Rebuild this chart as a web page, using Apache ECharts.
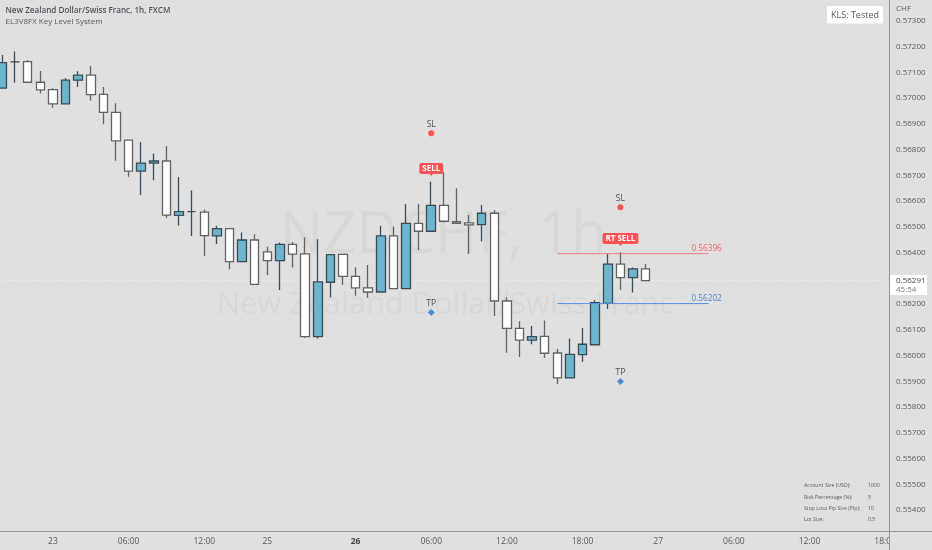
<!DOCTYPE html>
<html><head><meta charset="utf-8">
<style>html,body{margin:0;padding:0;background:#e0e0e0}#c{width:932px;height:550px}</style>
<script src="https://cdn.jsdelivr.net/npm/echarts@6/dist/echarts.min.js"></script>
</head><body><div id="c"></div>
<script>
// open, close, low, high (x 1e-5 CHF); white = falling, blue = rising
const ohlc = [
[57039,57138,57039,57168],[57141,57141,57060,57181],[57142,57062,57062,57148],[57062,57032,57018,57106],
[57033,56978,56963,57039],[56978,57070,56978,57079],[57070,57090,57044,57105],[57090,57014,56990,57126],
[57015,56945,56899,57044],[56945,56834,56757,56980],[56837,56717,56695,56837],[56717,56748,56624,56829],
[56748,56756,56681,56785],[56756,56546,56536,56814],[56545,56559,56505,56694],[56559,56559,56465,56641],
[56557,56466,56387,56568],[56465,56493,56434,56504],[56493,56365,56335,56496],[56365,56449,56365,56478],
[56449,56277,56277,56471],[56403,56369,56313,56423],[56369,56432,56255,56439],[56432,56394,56342,56441],
[56395,56074,56068,56460],[56074,56286,56066,56452],[56285,56392,56227,56392],[56393,56308,56274,56393],
[56308,56263,56232,56343],[56263,56247,56225,56352],[56247,56465,56247,56504],[56465,56260,56258,56502],
[56260,56514,56260,56589],[56514,56483,56410,56590],[56483,56584,56483,56675],[56584,56522,56517,56712],
[56520,56514,56511,56650],[56516,56508,56395,56546],[56509,56553,56444,56585],[56553,56212,56154,56566],
[56212,56106,56011,56227],[56106,56060,55994,56133],[56060,56074,56044,56115],[56075,56009,55992,56136],
[56010,55913,55890,56026],[55913,56005,55913,56066],[56004,56044,55976,56107],[56042,56206,56042,56215],
[56203,56355,56181,56396],[56355,56303,56256,56401],[56303,56337,56245,56342],[56337,56291,56291,56356]
];
const tickAt = {4:'23',10:'06:00',16:'12:00',21:'25',28:'26',34:'06:00',40:'12:00',46:'18:00',52:'27',58:'06:00',64:'12:00',70:'18:00'};
const categoryCount = 71;
const yTicksMin = 0.554, yTicksMax = 0.573;
const currentPrice = 0.56291;
const levelRed = 0.56396, levelBlue = 0.56202;
const levelStart = 44, levelEnd = 56, levelLabelAt = 57;
const slPoints = [[34,0.56864],[49,0.56576]];
const tpPoints = [[34,0.56167],[49,0.55899]];
const tags = [[34,0.56704,'SELL'],[49,0.56432,'RT SELL']];
const statsLabels = ['Account Size (USD):','Risk Percentage (%):','Stop Loss Pip Size (Pip):','Lot Size:'];
const statsValues = ['1000','5','10','0.5'];

const FONT = '"Open Sans","Noto Sans",sans-serif';
const BG = '#e0e0e0', TXT = '#555a60';
const categories = Array.from({length:categoryCount},(_,i)=>String(i));
const candles = ohlc.map(r=>r.map(v=>v/100000));

function txt(x,y,text,o){return {type:'text',x,y,z:(o&&o.z)||20,silent:true,style:Object.assign({text,fill:TXT,font:'8px '+FONT,textVerticalAlign:'middle',textAlign:'left'},o&&o.style)}}

const graphics = [
  {type:'text',x:443,y:236,z:0,silent:true,style:{text:'NZDCHF, 1h',fill:'#d8d8d8',font:'58px '+FONT,textAlign:'center',textVerticalAlign:'middle'}},
  {type:'text',x:445.5,y:305,z:0,silent:true,style:{text:'New Zealand Dollar/Swiss Franc',fill:'#d8d8d8',font:'30.8px '+FONT,textAlign:'center',textVerticalAlign:'middle'}},
  {type:'rect',z:15,silent:true,shape:{x:889,y:532,width:43,height:18},style:{fill:BG}},
  {type:'line',z:16,silent:true,shape:{x1:0,y1:531.5,x2:932,y2:531.5},style:{stroke:'#8f9296',lineWidth:1}},
  {type:'line',z:16,silent:true,shape:{x1:889.5,y1:0,x2:889.5,y2:550},style:{stroke:'#8f9296',lineWidth:1}},
  txt(5.5,10.5,'New Zealand Dollar/Swiss Franc, 1h, FXCM',{style:{font:'600 8.1px '+FONT,fill:'#4f555c'}}),
  txt(5.5,21.5,'EL3V8FX Key Level System',{style:{font:'8px '+FONT}}),
  txt(896,9,'CHF'),
  {type:'rect',z:18,silent:true,shape:{x:827,y:6,width:56,height:17.5},style:{fill:'#ffffff'}},
  txt(855,15,'KLS: Tested',{style:{textAlign:'center',font:'9px '+FONT}}),
  {type:'rect',z:18,silent:true,shape:{x:890,y:275,width:37,height:20},style:{fill:'#ffffff'}},
  txt(896,281,currentPrice.toFixed(5),{style:{fill:'#444'}}),
  txt(896,290,'45:54',{style:{fill:'#777'}})
];
statsLabels.forEach((t,i)=>{
  const y=[486,497.3,508.3,519.3][i];
  graphics.push(txt(804,y,t,{style:{font:'5.2px '+FONT}}));
  graphics.push(txt(868,y,statsValues[i],{style:{font:'5.2px '+FONT}}));
});

const levelLabel = (c,p)=>({type:'scatter',z:6,symbol:'circle',symbolSize:1,silent:true,
  itemStyle:{opacity:0},
  data:[[levelLabelAt,p]],
  label:{show:true,opacity:1,position:'left',distance:-1,offset:[0,-5],formatter:p.toFixed(5),color:c,fontSize:8.2,fontFamily:FONT}});
const levelLine = (c,p)=>({type:'line',z:5,silent:true,symbol:'none',
  data:[[levelStart,p],[levelEnd,p]],lineStyle:{color:c,width:1,opacity:1},itemStyle:{color:c}});

const option = {
  animation:false,
  backgroundColor:BG,
  textStyle:{fontFamily:FONT},
  grid:{left:-3.8,right:40.5,top:-4.74,bottom:14.26,outerBoundsMode:'none'},
  xAxis:{type:'category',data:categories,boundaryGap:true,
    axisLine:{show:false},axisTick:{show:false},splitLine:{show:false},
    axisLabel:{interval:0,margin:1,color:TXT,fontSize:8.5,fontFamily:FONT,hideOverlap:false,
      formatter:(v)=>{const t=tickAt[v]||'';return t==='26'?'{b|26}':t;},
      rich:{b:{fontWeight:'bold',color:'#444',fontSize:8.5,fontFamily:FONT}}}},
  yAxis:{type:'value',position:'right',min:0.553,max:0.574,interval:0.001,
    axisLine:{show:false},axisTick:{show:false},splitLine:{show:false},
    axisLabel:{margin:4.5,color:TXT,fontSize:8,fontFamily:FONT,
      formatter:(v)=>(v<yTicksMin-1e-7||v>yTicksMax+1e-7)?'':v.toFixed(5)}},
  graphic:{elements:graphics},
  series:[
    {type:'line',z:1,silent:true,symbol:'none',data:[[0,currentPrice],[categoryCount-1,currentPrice]],
      lineStyle:{color:'#f4f4f4',type:[1,2],width:1}},
    {type:'candlestick',z:2,data:candles,barWidth:9,silent:true,
      itemStyle:{color:'#6db5ce',color0:'#ffffff',borderColor:'#3b4c57',borderColor0:'#5f6367',borderWidth:1.3}},
    levelLine('#ef7c7c',levelRed),levelLine('#5b8fe0',levelBlue),
    levelLabel('#f4666a',levelRed),levelLabel('#4d86c9',levelBlue),
    {type:'scatter',z:7,silent:true,symbol:'circle',symbolSize:6,data:slPoints,itemStyle:{color:'#ff5252',opacity:1},
      label:{show:true,position:'top',distance:1,formatter:'SL',color:'#4a4f55',fontSize:8.5,fontFamily:FONT}},
    {type:'scatter',z:7,silent:true,symbol:'diamond',symbolSize:7,data:tpPoints,itemStyle:{color:'#4f8ad6',opacity:1},
      label:{show:true,position:'top',distance:1,formatter:'TP',color:'#4a4f55',fontSize:8.5,fontFamily:FONT}},
    {type:'scatter',z:7,silent:true,symbol:'triangle',symbolRotate:180,symbolSize:[5,3],
      data:tags.map(t=>({value:[t[0],t[1]],name:t[2]})),itemStyle:{color:'#ff5252',opacity:1},
      label:{show:true,position:'top',distance:-1,formatter:'{b}',color:'#fff',fontSize:8,fontWeight:700,fontFamily:FONT,
        backgroundColor:'#ff5252',padding:[2,3,1,3],borderRadius:2}}
  ]
};
echarts.init(document.getElementById('c'),null,{renderer:'canvas'}).setOption(option);
</script></body></html>
